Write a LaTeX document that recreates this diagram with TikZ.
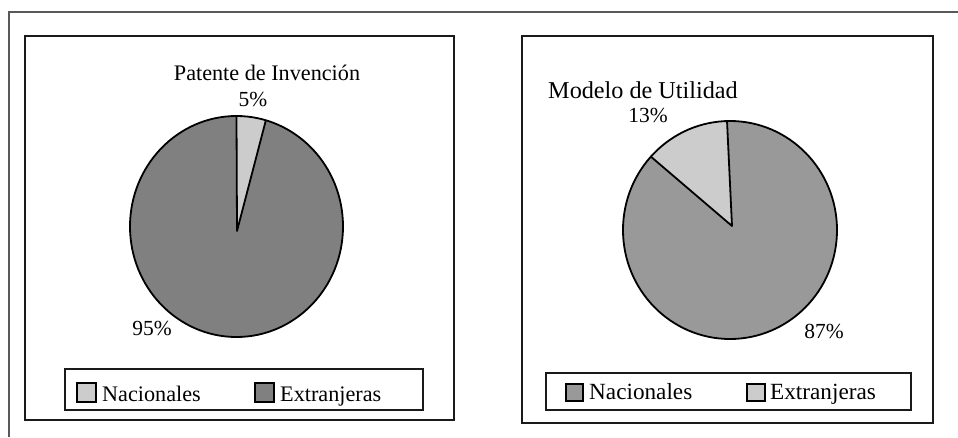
\documentclass[tikz,border=0pt]{standalone}
\usepackage{fontspec}
\setmainfont{Liberation Serif}
\usetikzlibrary{calc}
\definecolor{darkslice}{HTML}{808080}
\definecolor{midslice}{HTML}{999999}
\definecolor{lightslice}{HTML}{CCCCCC}
\definecolor{framegray}{HTML}{595959}
\definecolor{boxline}{HTML}{1A1A1A}
\tikzset{
  chartbox/.style={draw=boxline, line width=1.4pt, fill=white},
  legbox/.style={draw=boxline, line width=1.3pt, fill=white},
  swatch/.style={draw=black, line width=2pt},
  slice/.style={draw=black, line width=1.8pt, line join=round},
  lbl/.style={inner sep=0pt, anchor=base, font=\fontsize{21.5}{25}\selectfont},
  legtxtL/.style={inner sep=0pt, anchor=base west, font=\fontsize{22.2}{26}\selectfont},
  legtxtR/.style={inner sep=0pt, anchor=base west, font=\fontsize{23.2}{27}\selectfont},
}
\begin{document}
\begin{tikzpicture}[x=1pt,y=-1pt]
\useasboundingbox (0,0) rectangle (958,437);
\fill[white] (0,0) rectangle (958,437);
% outer frame
\draw[framegray, line width=1.5pt] (9,437) -- (9,12) -- (958,12);

% ---------- left chart ----------
\draw[chartbox] (25,36) rectangle (454,420);
\coordinate (LV) at (237,231);
\coordinate (LC) at (236.5,226.5);
\coordinate (LA) at ($(LC)+(0,-110.5)$);
\coordinate (LB) at ($(LC)+({106.5*cos(-74)},{110.5*sin(-74)})$);
\fill[lightslice] (LV) -- (LA) arc[start angle=-90, end angle=-74, x radius=106.5, y radius=110.5] -- cycle;
\fill[darkslice] (LV) -- (LB) arc[start angle=-74, end angle=270, x radius=106.5, y radius=110.5] -- cycle;
\draw[slice] (LC) ellipse[x radius=106.5, y radius=110.5];
\draw[slice] (LA) -- (LV) -- (LB);

\node[lbl, font=\fontsize{22.2}{26}\selectfont] (ltitle) at (267,80) {Patente de Invención};
\node[lbl] (l5) at (253,106) {5\%};
\node[lbl] (l95) at (152,335) {95\%};

\draw[legbox] (65,369) rectangle (423,410);
\draw[swatch, fill=lightslice] (77,383) rectangle (96,402);
\node[legtxtL] (lnac) at (102,401) {Nacionales};
\draw[swatch, fill=darkslice] (255,383) rectangle (274,402);
\node[legtxtL] (lext) at (280,401) {Extranjeras};

% ---------- right chart ----------
\draw[chartbox] (522,36) rectangle (933,423);
\coordinate (RV) at (732,226);
\coordinate (RC) at (730,230);
\coordinate (RA) at ($(RC)+({107*cos(-137.7)},{109*sin(-137.7)})$);
\coordinate (RB) at ($(RC)+({107*cos(-91.6)},{109*sin(-91.6)})$);
\fill[lightslice] (RV) -- (RA) arc[start angle=-137.7, end angle=-91.6, x radius=107, y radius=109] -- cycle;
\fill[midslice] (RV) -- (RB) arc[start angle=-91.6, end angle=222.3, x radius=107, y radius=109] -- cycle;
\draw[slice] (RC) ellipse[x radius=107, y radius=109];
\draw[slice] (RA) -- (RV) -- (RB);

\node[lbl, font=\fontsize{24.2}{28}\selectfont] (rtitle) at (643,98) {Modelo de Utilidad};
\node[lbl] (r13) at (648,122) {13\%};
\node[lbl] (r87) at (824,338) {87\%};

\draw[legbox] (546,373) rectangle (911,410);
\draw[swatch, fill=midslice] (566,384) rectangle (583,401);
\node[legtxtR] (rnac) at (589,399) {Nacionales};
\draw[swatch, fill=lightslice] (747,384) rectangle (765,401);
\node[legtxtR] (rext) at (770,399) {Extranjeras};
\end{tikzpicture}
\end{document}
